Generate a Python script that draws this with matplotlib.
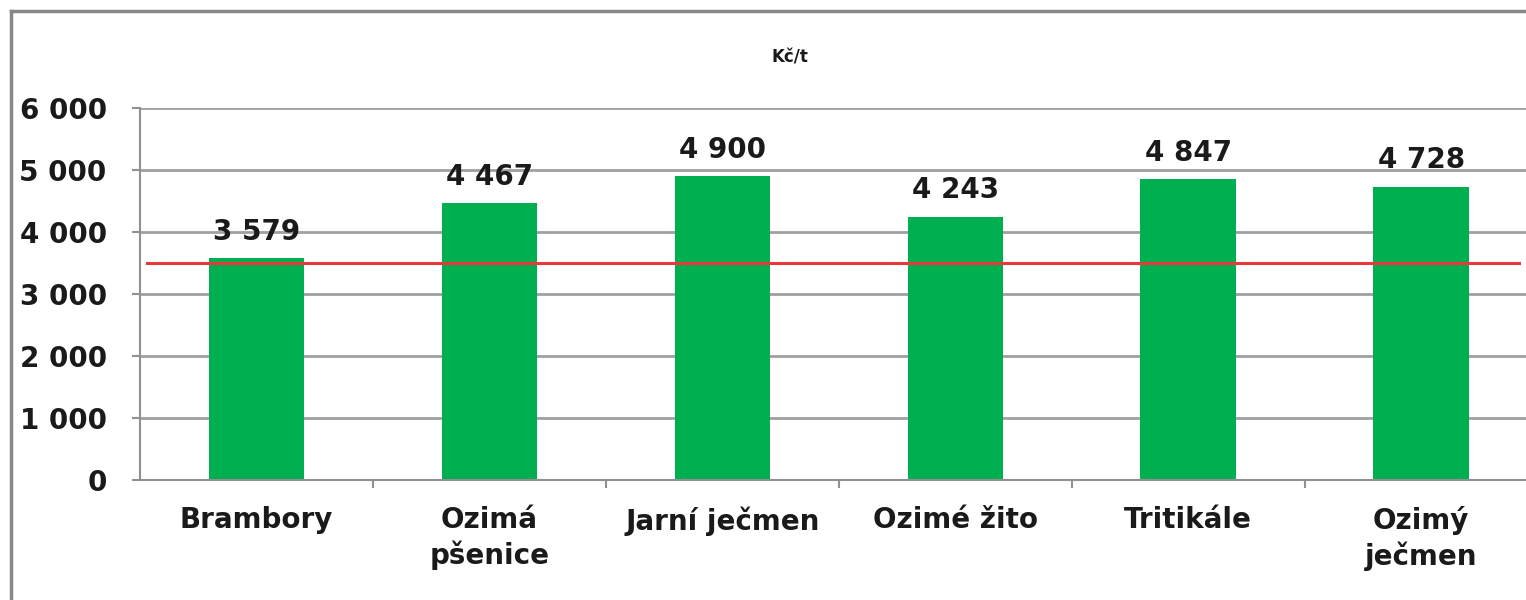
import matplotlib.pyplot as plt
from matplotlib.lines import Line2D

plt.rcParams['font.family'] = ['DejaVu Sans']

crops = ["Brambory", "Ozimá\npšenice", "Jarní ječmen", "Ozimé žito", "Tritikále", "Ozimý\nječmen"]
prices = [3579, 4467, 4900, 4243, 4847, 4728]
price_labels = ["3 579", "4 467", "4 900", "4 243", "4 847", "4 728"]
y_ticks = [0, 1000, 2000, 3000, 4000, 5000, 6000]
y_tick_labels = ["0", "1 000", "2 000", "3 000", "4 000", "5 000", "6 000"]
red_level = 3500

fig = plt.figure(figsize=(15.26, 6), dpi=100)
ax = fig.add_axes([140 / 1526, 0.2, 1 - 140 / 1526, 0.62])

x = range(len(crops))
ax.bar(x, prices, width=0.41, color='#00B050', zorder=2)
ax.axhline(red_level, color='#E8393A', lw=2.2, zorder=3, xmin=0.005, xmax=0.995)

for i, (v, lab) in enumerate(zip(prices, price_labels)):
    ax.annotate(lab, (i, v), xytext=(0, 9), textcoords='offset points',
                ha='center', va='bottom', fontsize=20, fontweight='bold', color='#1a1a1a')

ax.set_xlim(-0.5, 5.45)
ax.set_ylim(0, 6000)
ax.set_yticks(y_ticks)
ax.set_yticklabels(y_tick_labels, fontsize=20, fontweight='bold', color='#1a1a1a')
ax.set_xticks(list(x))
ax.set_xticklabels(crops, fontsize=20, fontweight='bold', color='#1a1a1a',
                   va='top', linespacing=1.25)
ax.set_xticks([i + 0.5 for i in range(len(crops) - 1)], minor=True)
ax.tick_params(axis='x', which='major', length=0, pad=19)
ax.tick_params(axis='x', which='minor', length=6, width=1.5, color='#909090')
ax.tick_params(axis='y', length=6, width=1.5, color='#909090', pad=18)

ax.yaxis.grid(True, color='#A0A0A0', lw=2)
ax.set_axisbelow(True)
for s in ['top', 'right']:
    ax.spines[s].set_visible(False)
for s in ['left', 'bottom']:
    ax.spines[s].set_color('#909090')
    ax.spines[s].set_linewidth(1.5)

fig.text(790 / 1526, 1 - 57 / 600, "Kč/t", ha='center', va='center',
         fontsize=12, fontweight='bold', color='#1a1a1a')

# outer frame (top and left edges)
fig.add_artist(Line2D([11 / 1526, 1], [1 - 11 / 600, 1 - 11 / 600], color='#888888', lw=2.5))
fig.add_artist(Line2D([11 / 1526, 11 / 1526], [0, 1 - 11 / 600], color='#888888', lw=2.5))

fig.savefig('out.png', dpi=100)
